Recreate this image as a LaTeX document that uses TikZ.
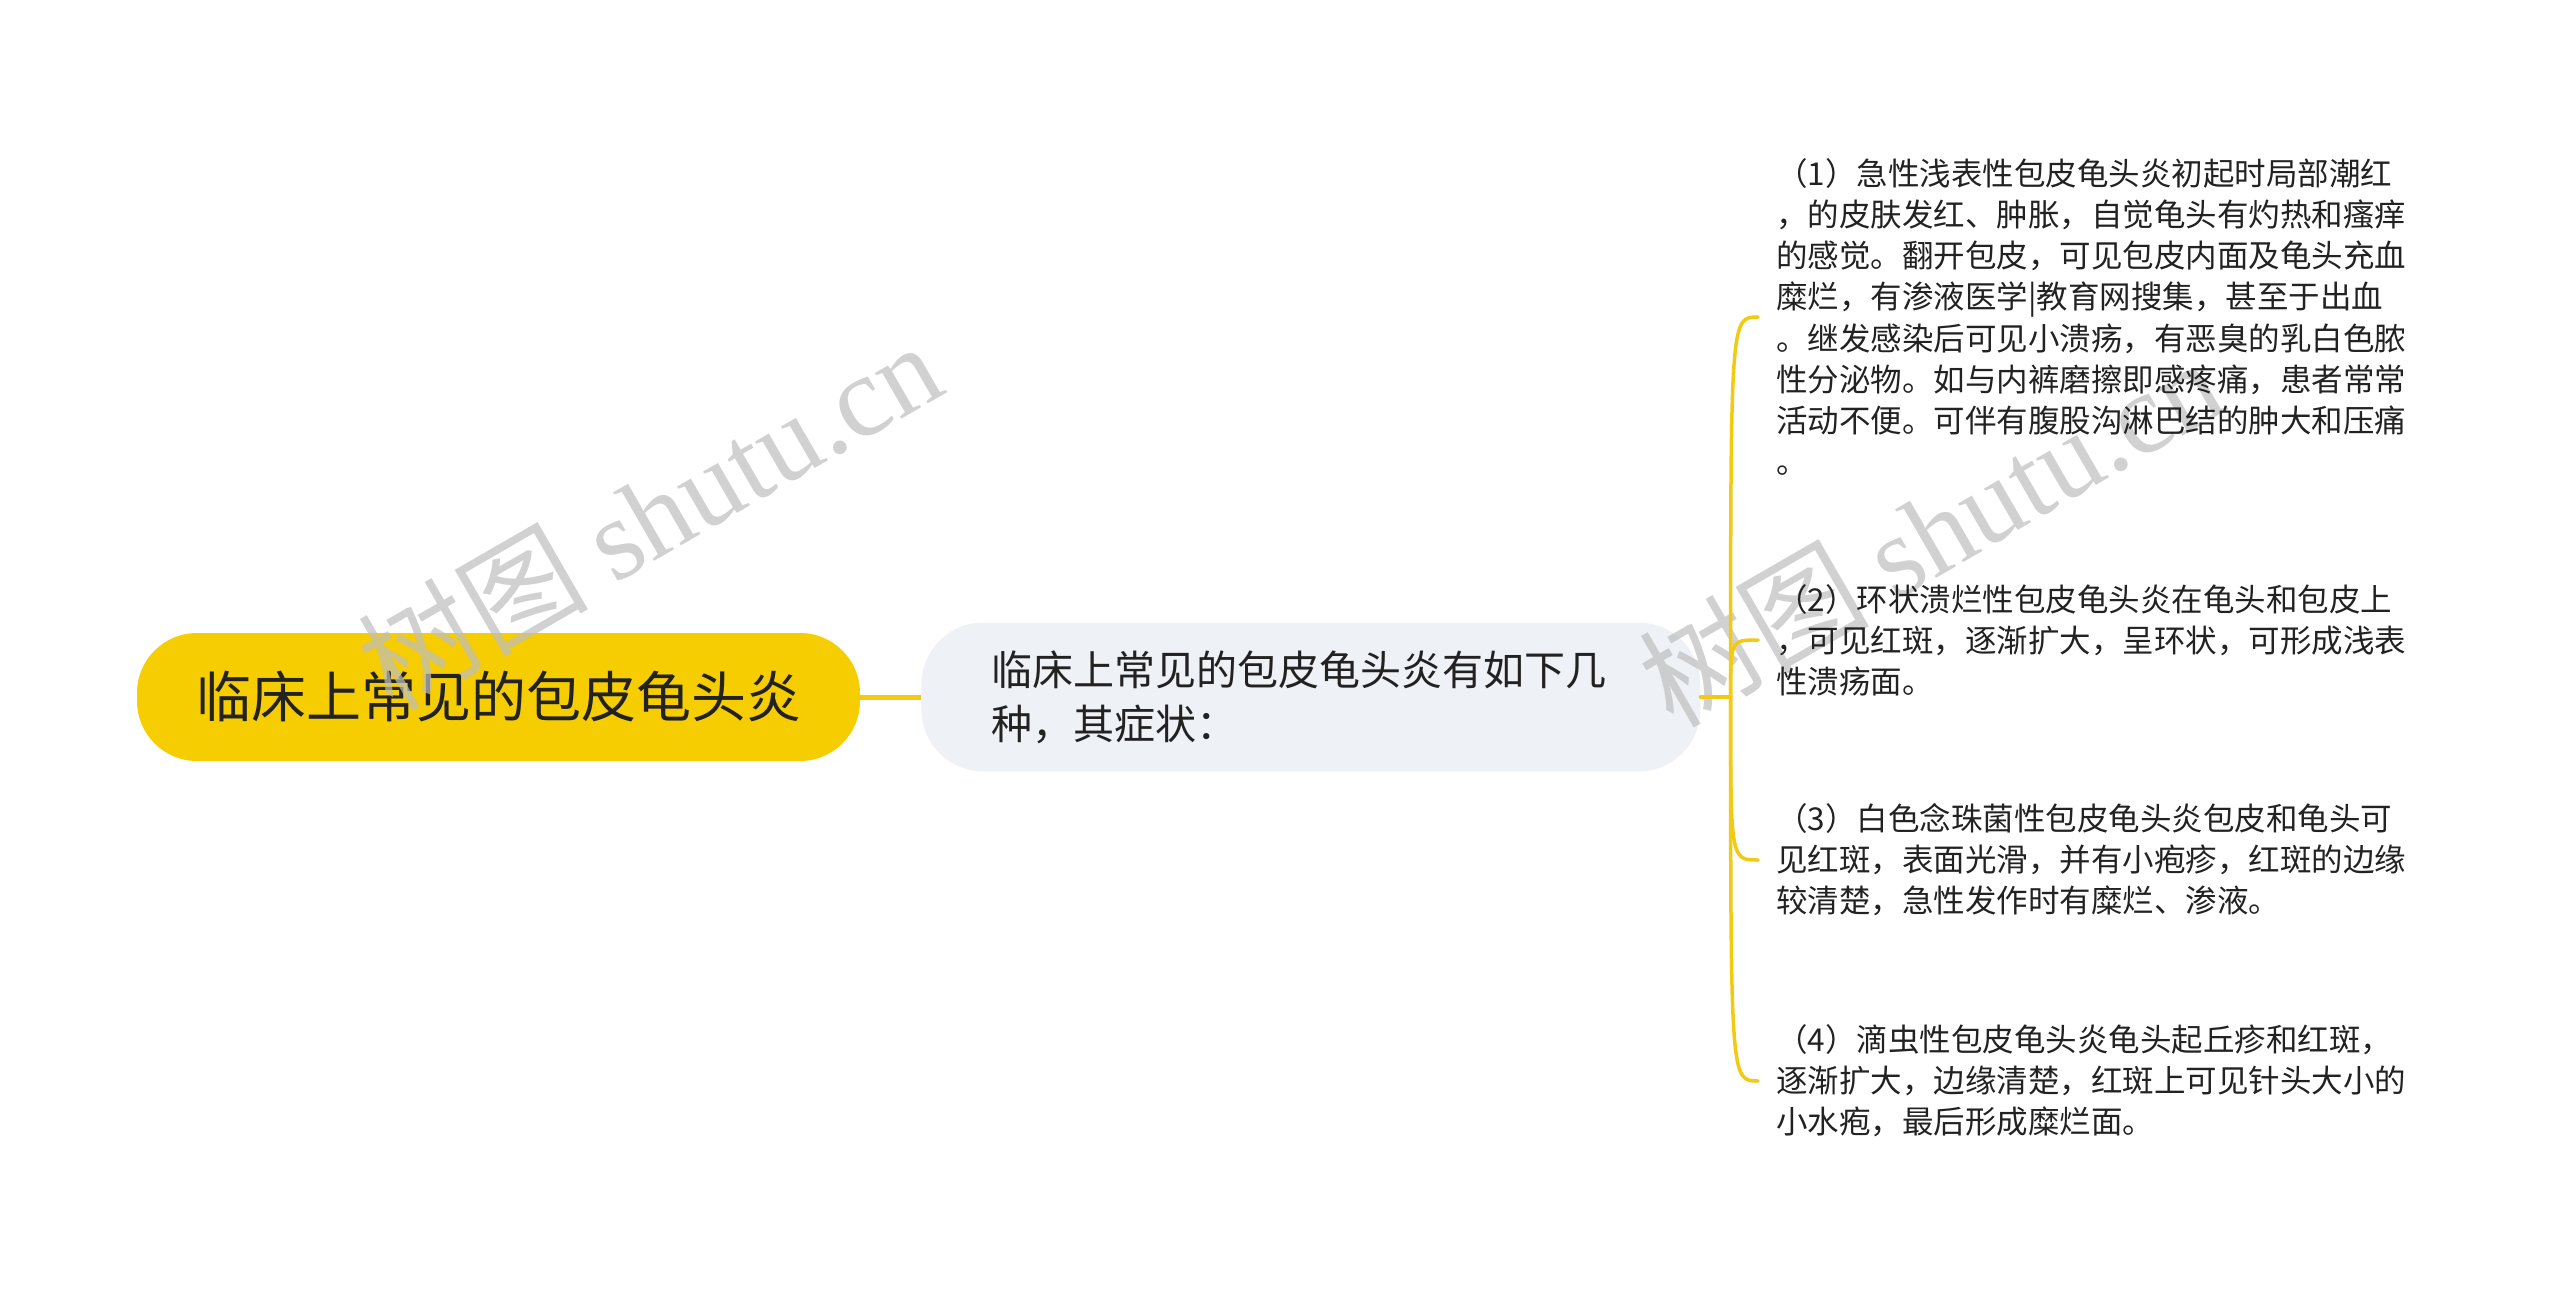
\documentclass[tikz,border=0pt]{standalone}
\usepackage{fontspec}
\setmainfont{Noto Sans CJK SC}
\newfontfamily\wmlatin{Liberation Serif}
\usetikzlibrary{positioning}
\definecolor{rootyellow}{RGB}{245,205,0}
\definecolor{lineyellow}{RGB}{242,202,18}
\definecolor{subgray}{RGB}{238,241,245}
\definecolor{textdark}{RGB}{34,34,34}
\definecolor{markgray}{RGB}{190,190,190}
\tikzstyle{rootbox} = [rectangle, rounded corners=60pt, minimum width=723pt, minimum height=128pt, fill=rootyellow, text=textdark, font=\fontsize{55}{66}\selectfont]
\tikzstyle{subbox} = [rectangle, rounded corners=62pt, minimum height=149pt, text width=639pt, inner xsep=70pt, align=left, fill=subgray, text=textdark, font=\fontsize{41}{54}\selectfont]
\tikzstyle{leaf} = [anchor=west, inner xsep=18pt, inner ysep=0pt, align=left, text=textdark, font=\fontsize{31.5}{41.1}\selectfont]
\tikzstyle{wmark} = [text=markgray, opacity=0.7, rotate=30, font=\fontsize{115}{115}\selectfont]
\tikzstyle{link} = [line width=5pt, draw=lineyellow]
\tikzstyle{branch} = [line width=3.5pt, draw=lineyellow, line cap=round]

\begin{document}
\begin{tikzpicture}[x=1pt, y=-1pt]
\useasboundingbox (0,0) rectangle (2560,1293);
\node (root) [rootbox] at (498.5,697) {临床上常见的包皮龟头炎};
\node (sub) [subbox, right=61pt of root] {临床上常见的包皮龟头炎有如下几\\种，其症状：};
\coordinate [right=30pt of sub] (jn);
% watermark
\node (wm1) [wmark] at (649,514) {树图 {\wmlatin shutu.cn}};
\node (wm2) [wmark] at (1930,531) {树图 {\wmlatin shutu.cn}};
\node (c1) [leaf] at (1758,317) {（1）急性浅表性包皮龟头炎初起时局部潮红\\，的皮肤发红、肿胀，自觉龟头有灼热和瘙痒\\的感觉。翻开包皮，可见包皮内面及龟头充血\\糜烂，有渗液医学|教育网搜集，甚至于出血\\。继发感染后可见小溃疡，有恶臭的乳白色脓\\性分泌物。如与内裤磨擦即感疼痛，患者常常\\活动不便。可伴有腹股沟淋巴结的肿大和压痛\\。};
\node (c2) [leaf] at (1758,640) {（2）环状溃烂性包皮龟头炎在龟头和包皮上\\，可见红斑，逐渐扩大，呈环状，可形成浅表\\性溃疡面。};
\node (c3) [leaf] at (1758,860) {（3）白色念珠菌性包皮龟头炎包皮和龟头可\\见红斑，表面光滑，并有小疱疹，红斑的边缘\\较清楚，急性发作时有糜烂、渗液。};
\node (c4) [leaf] at (1758,1081) {（4）滴虫性包皮龟头炎龟头起丘疹和红斑，\\逐渐扩大，边缘清楚，红斑上可见针头大小的\\小水疱，最后形成糜烂面。};
\draw [link] (root) -- (sub);
\draw [branch] (sub) -- (jn);
\draw [branch] (jn) .. controls (jn |- c1.west) .. (c1.west);
\draw [branch] (jn) .. controls (jn |- c2.west) .. (c2.west);
\draw [branch] (jn) .. controls (jn |- c3.west) .. (c3.west);
\draw [branch] (jn) .. controls (jn |- c4.west) .. (c4.west);
\end{tikzpicture}
\end{document}
